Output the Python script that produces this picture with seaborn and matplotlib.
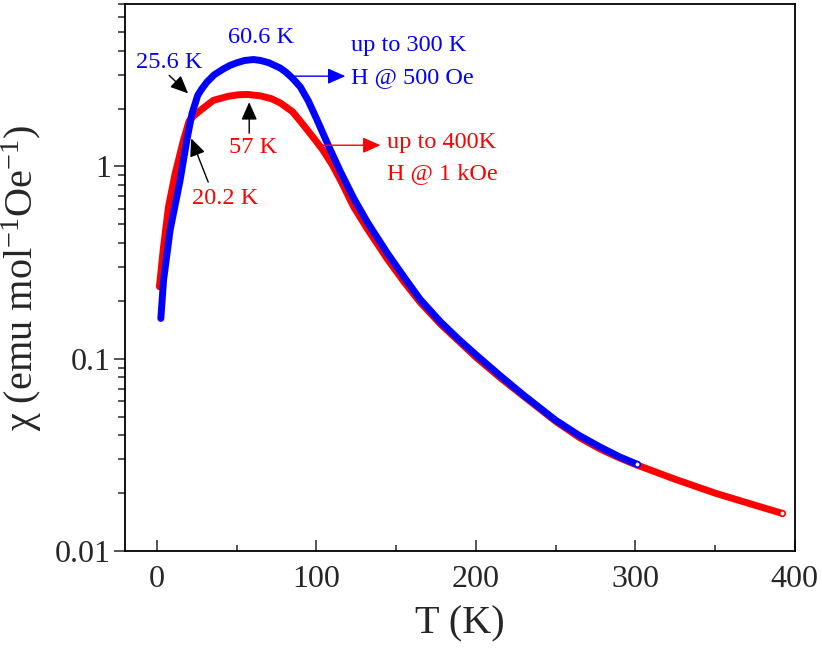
import numpy as np
import pandas as pd
import matplotlib
matplotlib.use("Agg")
import matplotlib.pyplot as plt
import seaborn as sns
from matplotlib.ticker import LogLocator, FixedLocator, FixedFormatter, MultipleLocator, NullFormatter

# ---- data ----
T_red = [1.6, 4.2, 7.3, 11.5, 16.7, 20.2, 23, 28, 35.5, 45, 51, 57, 65, 72, 77.4, 85, 92,
         100, 104, 110, 116, 123.4, 132, 144.4, 155, 165, 178, 190, 200, 215.5, 230, 250,
         265, 278, 290, 300, 325, 350, 375, 392]
chi_red = [0.237, 0.382, 0.617, 0.92, 1.37, 1.72, 1.83, 1.98, 2.21, 2.32, 2.36, 2.37, 2.33,
           2.25, 2.14, 1.93, 1.64, 1.35, 1.22, 1.02, 0.822, 0.617, 0.473, 0.331, 0.251,
           0.197, 0.151, 0.122, 0.102, 0.0794, 0.0638, 0.0473, 0.0389, 0.0339, 0.0305,
           0.0282, 0.0236, 0.0200, 0.0173, 0.0157]

T_blue = [2.5, 4.2, 8.3, 14.6, 18.8, 22, 25.6, 28, 31.4, 36, 41.8, 46, 50, 55, 60.6, 65, 70,
          77.4, 81, 85, 90, 95, 100, 108, 115, 123.4, 132, 144.4, 155, 165, 178, 190, 200,
          215.5, 230, 250, 265, 278, 290, 301]
chi_blue = [0.162, 0.256, 0.466, 0.85, 1.37, 1.88, 2.34, 2.52, 2.75, 3.00, 3.22, 3.36, 3.46,
            3.56, 3.60, 3.56, 3.47, 3.25, 3.09, 2.88, 2.59, 2.19, 1.78, 1.26, 0.944, 0.684,
            0.513, 0.355, 0.266, 0.204, 0.155, 0.1245, 0.105, 0.0813, 0.0646, 0.0479,
            0.0398, 0.0347, 0.0309, 0.0283]

x_ticks = [0, 100, 200, 300, 400]
y_ticks = [0.01, 0.1, 1]
y_tick_labels = ["0.01", "0.1", "1"]

df_red = pd.DataFrame({"T": T_red, "chi": chi_red})
df_blue = pd.DataFrame({"T": T_blue, "chi": chi_blue})

sns.set_theme(style="ticks")
plt.rcParams["font.family"] = ["Liberation Serif", "DejaVu Serif"]
plt.rcParams["mathtext.fontset"] = "custom"
plt.rcParams["mathtext.rm"] = "Liberation Serif"
plt.rcParams["mathtext.it"] = "Liberation Serif:italic"

fig = plt.figure(figsize=(8.22, 6.48), dpi=100)
ax = fig.add_axes([0.152, 0.1497, 0.815, 0.8441])

RED = "#ff0000"
BLUE = "#0000ff"

sns.lineplot(data=df_red, x="T", y="chi", ax=ax, color=RED, lw=5.0, sort=False,
             estimator=None, solid_capstyle="round", solid_joinstyle="round")
sns.lineplot(data=df_blue, x="T", y="chi", ax=ax, color=BLUE, lw=5.0, sort=False,
             estimator=None, solid_capstyle="round", solid_joinstyle="round")
# small open end markers
ax.plot([T_red[-1]], [chi_red[-1]], "o", mfc="white", mec=RED, ms=4, mew=1.2)
ax.plot([T_blue[-1]], [chi_blue[-1]], "o", mfc="white", mec=BLUE, ms=4, mew=1.2)

ax.set_yscale("log")
ax.set_xlim(-20, 400)
ax.set_ylim(0.01, 7)

ax.xaxis.set_major_locator(FixedLocator(x_ticks))
ax.xaxis.set_minor_locator(MultipleLocator(50))
ax.yaxis.set_major_locator(FixedLocator(y_ticks))
ax.yaxis.set_major_formatter(FixedFormatter(y_tick_labels))
ax.yaxis.set_minor_locator(LogLocator(base=10, subs=np.arange(2, 10)))
ax.yaxis.set_minor_formatter(NullFormatter())

ax.tick_params(axis="x", which="major", direction="in", length=8, width=1.1,
               labelsize=23, pad=10, top=False)
ax.tick_params(axis="x", which="minor", direction="in", length=4.5, width=1.1, top=False)
ax.tick_params(axis="y", which="major", direction="out", length=8, width=1.1,
               labelsize=23, pad=2, right=False)
ax.tick_params(axis="y", which="minor", direction="out", length=5, width=1.1, right=False)
for s in ax.spines.values():
    s.set_linewidth(1.3)
    s.set_color("black")
    s.set_visible(True)

ax.set_xlabel("T (K)", fontsize=29, labelpad=8)
ax.set_ylabel(r"χ (emu mol$^{-1}$Oe$^{-1}$)", fontsize=29, labelpad=8)

fs = 17.5
ax.text(65, 4.70, "60.6 K", color=BLUE, fontsize=fs, ha="center", va="center")
ax.text(7.7, 3.48, "25.6 K", color=BLUE, fontsize=fs, ha="center", va="center")
ax.text(60.5, 1.26, "57 K", color=RED, fontsize=fs, ha="center", va="center")
ax.text(42.9, 0.684, "20.2 K", color=RED, fontsize=fs, ha="center", va="center")
ax.text(122, 4.27, "up to 300 K", color=BLUE, fontsize=fs, ha="left", va="center")
ax.text(122, 2.91, "H @ 500 Oe", color=BLUE, fontsize=fs, ha="left", va="center")
ax.text(144, 1.336, "up to 400K", color=RED, fontsize=fs, ha="left", va="center")
ax.text(144, 0.922, "H @ 1 kOe", color=RED, fontsize=fs, ha="left", va="center")

def arrow(x0, y0, x1, y1, color):
    ax.annotate("", xy=(x1, y1), xytext=(x0, y0),
                arrowprops=dict(arrowstyle="-|>,head_length=0.9,head_width=0.4",
                                color=color, lw=1.0, shrinkA=0, shrinkB=0))

arrow(81.8, 2.95, 118.2, 2.95, BLUE)
arrow(102.5, 1.29, 140.2, 1.29, RED)
arrow(7.7, 2.98, 19.6, 2.40, "black")
arrow(57.9, 1.49, 57.9, 2.16, "black")
arrow(32.2, 0.829, 21.5, 1.40, "black")

fig.savefig("out.png", dpi=100)
